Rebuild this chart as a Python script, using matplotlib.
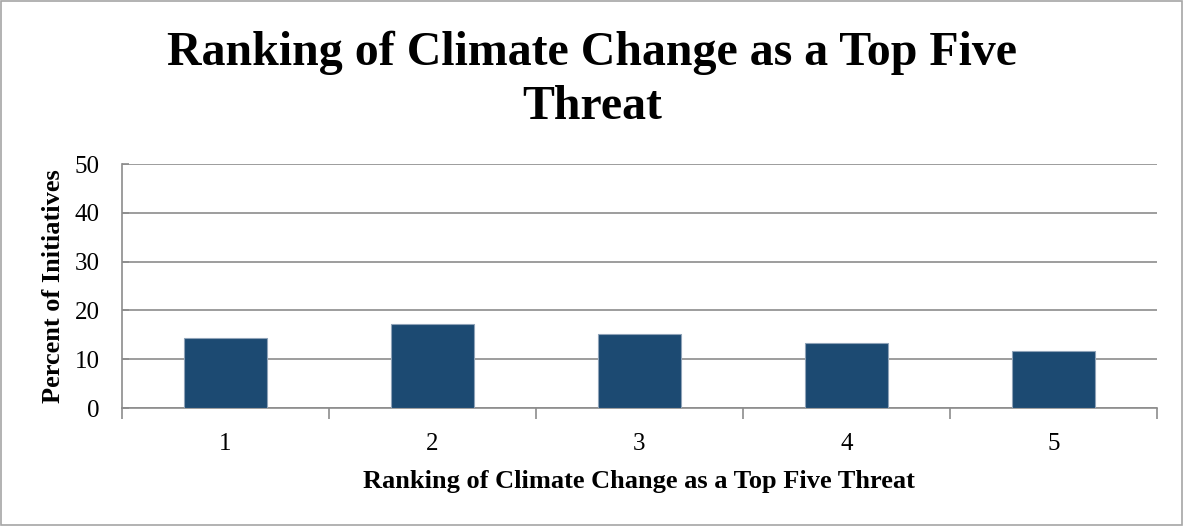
import matplotlib
matplotlib.use("Agg")
import matplotlib.pyplot as plt
from matplotlib.patches import Rectangle

# Share of initiatives ranking climate change at each position among top five threats
ranks = ["1", "2", "3", "4", "5"]
percent = [14.4, 17.2, 15.2, 13.3, 11.6]
y_ticks = [0, 10, 20, 30, 40, 50]

title_lines = ["Ranking of Climate Change as a Top Five", "Threat"]
x_label = "Ranking of Climate Change as a Top Five Threat"
y_label = "Percent of Initiatives"

plt.rcParams["font.family"] = ["Liberation Serif", "DejaVu Serif"]

fig = plt.figure(figsize=(11.84, 5.27), dpi=100)
ax = fig.add_axes([0.103, 0.2258, 0.874, 0.463])

positions = list(range(1, len(ranks) + 1))
ax.bar(positions, percent, width=0.4, color="#1C4A72", edgecolor="#8FA3B8",
       linewidth=0.8, zorder=3)

ax.set_xlim(0.5, len(ranks) + 0.5)
ax.set_ylim(0, 50)
ax.set_yticks(y_ticks)
ax.set_xticks(positions)
ax.set_xticklabels(ranks)
ax.set_xticks([p + 0.5 for p in range(len(ranks) + 1)], minor=True)

grid_color = "#8C8C8C"
ax.yaxis.grid(True, color=grid_color, linewidth=1.2, zorder=0)
for side in ("top", "right"):
    ax.spines[side].set_visible(False)
for side in ("left", "bottom"):
    ax.spines[side].set_color(grid_color)
    ax.spines[side].set_linewidth(1.2)

ax.tick_params(axis="x", which="major", length=0, pad=18, labelsize=18)
ax.tick_params(axis="x", which="minor", length=8, width=1.2, color=grid_color,
               direction="out")
ax.tick_params(axis="y", which="major", length=5, width=1.2, color=grid_color,
               direction="in", pad=16, labelsize=18)

ax.set_xlabel(x_label, fontsize=19, fontweight="bold", va="baseline")
ax.xaxis.set_label_coords(0.5, -0.328)
ax.set_ylabel(y_label, fontsize=19, fontweight="bold", va="center")
ax.yaxis.set_label_coords(-0.066, 0.5)

fig.text(0.5, 1 - 65 / 527, title_lines[0], ha="center", va="baseline",
         fontsize=34.5, fontweight="bold")
fig.text(0.5, 1 - 119 / 527, title_lines[1], ha="center", va="baseline",
         fontsize=34.5, fontweight="bold")

fig.patches.append(Rectangle((0.001, 0.003), 0.997, 0.995, transform=fig.transFigure,
                             fill=False, edgecolor="#A6A6A6", linewidth=1.2))

fig.savefig("out.png", dpi=100, facecolor="white")
